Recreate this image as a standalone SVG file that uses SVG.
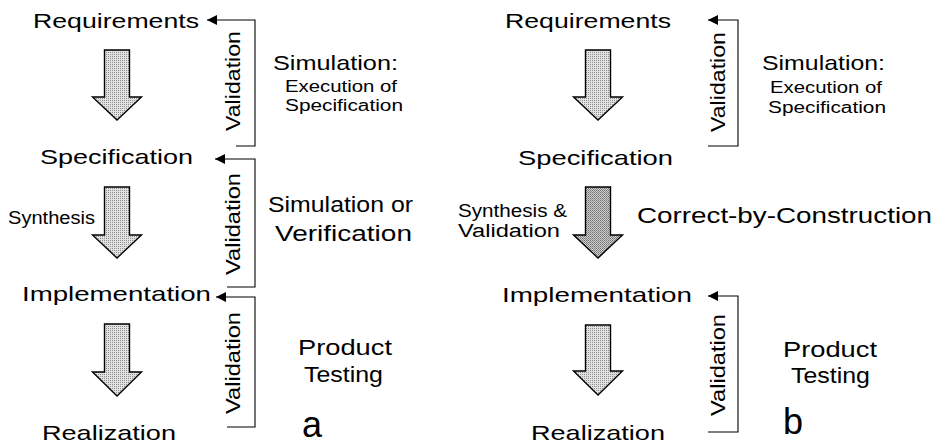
<svg xmlns="http://www.w3.org/2000/svg" width="941" height="446" viewBox="0 0 941 446">
  <defs>
    <!-- halftone fills for the block arrows -->
    <pattern id="dotLight" width="2" height="2" patternUnits="userSpaceOnUse">
      <rect width="2" height="2" fill="#e2e2e2"/>
      <rect width="1" height="1" fill="#8e8e8e"/>
    </pattern>
    <pattern id="dotDark" width="2" height="2" patternUnits="userSpaceOnUse">
      <rect width="2" height="2" fill="#cfcfcf"/>
      <rect width="1" height="1" fill="#707070"/>
      <rect x="1" y="1" width="1" height="1" fill="#8a8a8a"/>
    </pattern>
    <marker id="tri" viewBox="0 0 10 10" refX="10" refY="5" markerUnits="userSpaceOnUse" markerWidth="12" markerHeight="10" orient="auto">
      <path d="M0,0 L10,5 L0,10 Z" fill="#000"/>
    </marker>
  </defs>
  <style>
    text { font-family: "Liberation Sans", Arial, sans-serif; fill: #000; }
    .lbl { font-size: 21px; }
    .mid { font-size: 22px; }
    .sml { font-size: 16px; }
    .syn { font-size: 18px; }
    .big { font-size: 36px; }
    .block { stroke: #000; stroke-width: 1.4; stroke-linejoin: miter; }
    .light { fill: url(#dotLight); }
    .dark { fill: url(#dotDark); }
    .fb { fill: none; stroke: #000; stroke-width: 1.1; marker-end: url(#tri); }
  </style>

  <rect width="941" height="446" fill="#fff"/>

  <!-- connectors: design-flow block arrows and validation feedback loops -->
  <g id="connectors">
    <!-- panel a -->
    <path class="block light" d="M104.5 50 H129.5 V97 H141.5 L117 120 L92.5 97 H104.5 Z"/>
    <path class="block light" d="M104.5 187 H129.5 V235 H141.5 L117 258 L92.5 235 H104.5 Z"/>
    <path class="block light" d="M104.5 324 H129.5 V372 H141.5 L117 396 L92.5 372 H104.5 Z"/>
    <path class="fb" d="M236 146 H255 V20 H207"/>
    <path class="fb" d="M227 287 H255 V159 H215"/>
    <path class="fb" d="M227 427 H255 V297 H216"/>
    <!-- panel b -->
    <path class="block light" d="M585.5 50 H610.5 V97 H622.5 L598 120 L573.5 97 H585.5 Z"/>
    <path class="block dark" d="M585.5 187 H610.5 V235 H622.5 L598 258 L573.5 235 H585.5 Z"/>
    <path class="block light" d="M585.5 325 H610.5 V371 H622.5 L598 395 L573.5 371 H585.5 Z"/>
    <path class="fb" d="M708 146 H738 V20 H708"/>
    <path class="fb" d="M708 432 H738 V296 H708"/>
  </g>

  <!-- panel a: design stages -->
  <g id="a-requirements"><text class="lbl" x="33" y="28" textLength="166" lengthAdjust="spacingAndGlyphs">Requirements</text></g>
  <g id="a-specification"><text class="lbl" x="40" y="164" textLength="153" lengthAdjust="spacingAndGlyphs">Specification</text></g>
  <g id="a-implementation"><text class="lbl" x="22" y="301" textLength="189" lengthAdjust="spacingAndGlyphs">Implementation</text></g>
  <g id="a-realization"><text class="lbl" x="42" y="440" textLength="134" lengthAdjust="spacingAndGlyphs">Realization</text></g>
  <g id="a-synthesis"><text class="syn" x="8" y="224" textLength="87" lengthAdjust="spacingAndGlyphs">Synthesis</text></g>

  <!-- panel a: validation labels on the feedback loops -->
  <g id="a-validation-1"><text class="lbl" transform="translate(240 81) rotate(-90)" text-anchor="middle" textLength="100" lengthAdjust="spacingAndGlyphs">Validation</text></g>
  <g id="a-validation-2"><text class="lbl" transform="translate(240 224) rotate(-90)" text-anchor="middle" textLength="102" lengthAdjust="spacingAndGlyphs">Validation</text></g>
  <g id="a-validation-3"><text class="lbl" transform="translate(240 363) rotate(-90)" text-anchor="middle" textLength="102" lengthAdjust="spacingAndGlyphs">Validation</text></g>

  <!-- panel a: methods -->
  <g id="a-simulation">
    <text class="lbl" x="273" y="70" textLength="125" lengthAdjust="spacingAndGlyphs">Simulation:</text>
    <text class="sml" x="285" y="92" textLength="112" lengthAdjust="spacingAndGlyphs">Execution of</text>
    <text class="sml" x="285" y="111" textLength="118" lengthAdjust="spacingAndGlyphs">Specification</text>
  </g>
  <g id="a-sim-or-verif">
    <text class="mid" x="268" y="212" textLength="145" lengthAdjust="spacingAndGlyphs">Simulation or</text>
    <text class="mid" x="275" y="241" textLength="137" lengthAdjust="spacingAndGlyphs">Verification</text>
  </g>
  <g id="a-product-testing">
    <text class="mid" x="298" y="355" textLength="94" lengthAdjust="spacingAndGlyphs">Product</text>
    <text class="mid" x="304" y="382" textLength="79" lengthAdjust="spacingAndGlyphs">Testing</text>
  </g>
  <g id="a-caption"><text class="big" x="302" y="437">a</text></g>

  <!-- panel b: design stages -->
  <g id="b-requirements"><text class="lbl" x="505" y="28" textLength="166" lengthAdjust="spacingAndGlyphs">Requirements</text></g>
  <g id="b-specification"><text class="lbl" x="518" y="165" textLength="155" lengthAdjust="spacingAndGlyphs">Specification</text></g>
  <g id="b-implementation"><text class="lbl" x="502" y="302" textLength="190" lengthAdjust="spacingAndGlyphs">Implementation</text></g>
  <g id="b-realization"><text class="lbl" x="531" y="440" textLength="134" lengthAdjust="spacingAndGlyphs">Realization</text></g>
  <g id="b-synthesis-validation">
    <text class="syn" x="458" y="217" textLength="109" lengthAdjust="spacingAndGlyphs">Synthesis &amp;</text>
    <text class="syn" x="458" y="237" textLength="102" lengthAdjust="spacingAndGlyphs">Validation</text>
  </g>

  <!-- panel b: validation labels -->
  <g id="b-validation-1"><text class="lbl" transform="translate(725 82) rotate(-90)" text-anchor="middle" textLength="100" lengthAdjust="spacingAndGlyphs">Validation</text></g>
  <g id="b-validation-3"><text class="lbl" transform="translate(725 365) rotate(-90)" text-anchor="middle" textLength="102" lengthAdjust="spacingAndGlyphs">Validation</text></g>

  <!-- panel b: methods -->
  <g id="b-simulation">
    <text class="lbl" x="762" y="70" textLength="123" lengthAdjust="spacingAndGlyphs">Simulation:</text>
    <text class="sml" x="770" y="93" textLength="112" lengthAdjust="spacingAndGlyphs">Execution of</text>
    <text class="sml" x="768" y="113" textLength="118" lengthAdjust="spacingAndGlyphs">Specification</text>
  </g>
  <g id="b-correct-by-construction"><text class="mid" x="637" y="223" textLength="295" lengthAdjust="spacingAndGlyphs">Correct-by-Construction</text></g>
  <g id="b-product-testing">
    <text class="mid" x="783" y="357" textLength="94" lengthAdjust="spacingAndGlyphs">Product</text>
    <text class="mid" x="791" y="383" textLength="79" lengthAdjust="spacingAndGlyphs">Testing</text>
  </g>
  <g id="b-caption"><text class="big" x="783" y="434">b</text></g>
</svg>
